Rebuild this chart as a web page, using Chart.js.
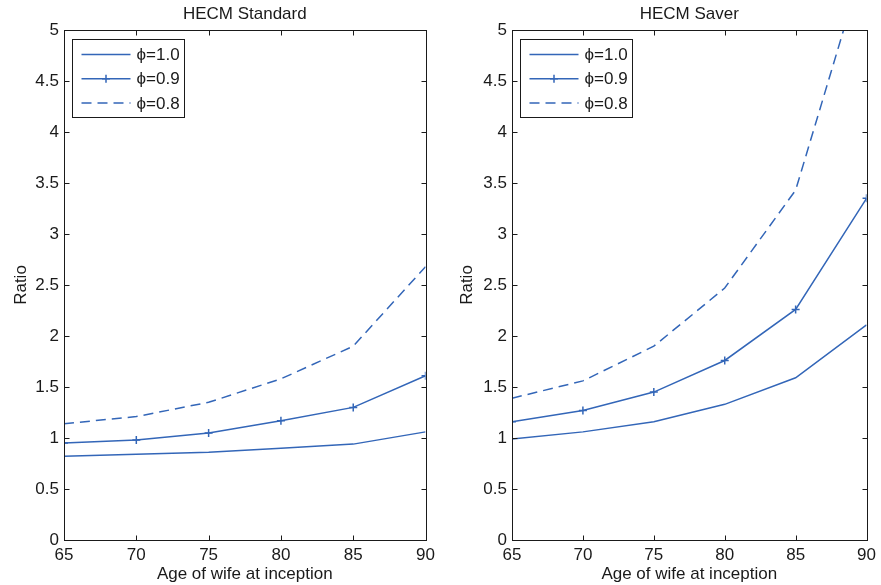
<!DOCTYPE html>
<html>
<head>
<meta charset="utf-8">
<script src="https://cdn.jsdelivr.net/npm/chart.js@4/dist/chart.umd.min.js"></script>
<style>
html, body { margin:0; padding:0; background:#fff; }
#wrap { position:relative; width:881px; height:585px; }
.box { position:absolute; top:0; height:585px; }
</style>
</head>
<body>
<div id="wrap">
  <div class="box" style="left:0;width:440px"><canvas id="std"></canvas></div>
  <div class="box" style="left:440px;width:441px"><canvas id="sav"></canvas></div>
</div>
<script>
// data
var ages = [65, 70, 75, 80, 85, 90];
var seriesNames = ['\u03d5=1.0', '\u03d5=0.9', '\u03d5=0.8'];
var yTicks = [0, 0.5, 1, 1.5, 2, 2.5, 3, 3.5, 4, 4.5, 5];

var std10 = [0.82, 0.84, 0.86, 0.90, 0.94, 1.06];
var std09 = [0.95, 0.98, 1.05, 1.17, 1.30, 1.61];
var std08 = [1.14, 1.21, 1.35, 1.58, 1.90, 2.68];

var sav10 = [0.99, 1.06, 1.16, 1.33, 1.59, 2.11];
var sav09 = [1.16, 1.27, 1.45, 1.76, 2.26, 3.35];
var sav08 = [1.39, 1.56, 1.90, 2.47, 3.43, 5.75];

var BLUE = '#3366b8';
var INK = '#1a1a1a';
var FONT = '"Liberation Sans", Arial, Helvetica, sans-serif';
var FS = 17;

function pts(vals) {
    return ages.map(function (a, i) { return { x: a, y: vals[i] }; });
}

function makeSets(a, b, c) {
    return [
        { label: seriesNames[0], data: pts(a), borderColor: BLUE, backgroundColor: BLUE,
          borderWidth: 1.5, pointRadius: 0, tension: 0 },
        { label: seriesNames[1], data: pts(b), borderColor: BLUE, backgroundColor: BLUE,
          borderWidth: 1.5, pointStyle: 'cross', pointRadius: 4, pointBorderWidth: 1.5, tension: 0 },
        { label: seriesNames[2], data: pts(c), borderColor: BLUE, backgroundColor: BLUE,
          borderWidth: 1.5, borderDash: [10, 6], pointRadius: 0, tension: 0 }
    ];
}

// box around the axes, inward ticks, title and legend (matlab style)
var matlabLook = {
    id: 'matlabLook',
    afterDatasetsDraw: function (chart, args, opts) {
        var ctx = chart.ctx, a = chart.chartArea;
        var L = Math.round(a.left) + 0.5, R = Math.round(a.right) + 0.5;
        var T = Math.round(a.top) + 0.5, B = Math.round(a.bottom) + 0.5;
        ctx.save();
        ctx.strokeStyle = INK;
        ctx.lineWidth = 1;
        ctx.setLineDash([]);
        ctx.strokeRect(L, T, R - L, B - T);
        ctx.beginPath();
        chart.scales.x.ticks.forEach(function (t) {
            var x = Math.round(chart.scales.x.getPixelForValue(t.value)) + 0.5;
            ctx.moveTo(x, B); ctx.lineTo(x, B - 5);
            ctx.moveTo(x, T); ctx.lineTo(x, T + 5);
        });
        chart.scales.y.ticks.forEach(function (t) {
            var y = Math.round(chart.scales.y.getPixelForValue(t.value)) + 0.5;
            ctx.moveTo(L, y); ctx.lineTo(L + 5, y);
            ctx.moveTo(R, y); ctx.lineTo(R - 5, y);
        });
        ctx.stroke();

        // title
        ctx.fillStyle = INK;
        ctx.font = FS + 'px ' + FONT;
        ctx.textAlign = 'center';
        ctx.textBaseline = 'middle';
        ctx.fillText(opts.text, (a.left + a.right) / 2, 14);

        // legend box
        var bx = Math.round(a.left) + 8.5, by = Math.round(a.top) + 9.5, bw = 112, bh = 78;
        ctx.fillStyle = '#fff';
        ctx.fillRect(bx, by, bw, bh);
        ctx.strokeStyle = INK;
        ctx.strokeRect(bx, by, bw, bh);
        chart.data.datasets.forEach(function (ds, i) {
            var cy = by + 15 + i * 24.3;
            var x0 = bx + 9, x1 = bx + 58;
            ctx.strokeStyle = ds.borderColor;
            ctx.lineWidth = ds.borderWidth;
            ctx.setLineDash(ds.borderDash || []);
            ctx.beginPath();
            ctx.moveTo(x0, cy); ctx.lineTo(x1, cy);
            ctx.stroke();
            ctx.setLineDash([]);
            if (ds.pointStyle === 'cross') {
                var mx = (x0 + x1) / 2;
                ctx.beginPath();
                ctx.moveTo(mx, cy - 4); ctx.lineTo(mx, cy + 4);
                ctx.moveTo(mx - 4, cy); ctx.lineTo(mx + 4, cy);
                ctx.stroke();
            }
            ctx.fillStyle = INK;
            ctx.font = FS + 'px ' + FONT;
            ctx.textAlign = 'left';
            ctx.textBaseline = 'middle';
            ctx.fillText(ds.label, bx + 64, cy + 1);
        });
        ctx.restore();
    }
};

function makeChart(id, title, sets, yWidth, padRight, titlePad) {
    return new Chart(document.getElementById(id), {
        type: 'line',
        data: { datasets: sets },
        plugins: [matlabLook],
        options: {
            responsive: true,
            maintainAspectRatio: false,
            animation: false,
            layout: { padding: { top: 30, right: padRight, left: 0, bottom: 0 } },
            plugins: {
                legend: { display: false },
                tooltip: { enabled: false },
                matlabLook: { text: title }
            },
            scales: {
                x: {
                    type: 'linear', min: 65, max: 90,
                    afterBuildTicks: function (s) { s.ticks = ages.map(function (v) { return { value: v }; }); },
                    afterFit: function (s) { s.height = 45; },
                    grid: { display: false, drawTicks: false },
                    border: { display: false },
                    ticks: { color: INK, font: { family: FONT, size: FS }, padding: 5, maxRotation: 0,
                             callback: function (v) { return String(v); } },
                    title: { display: true, text: 'Age of wife at inception', color: INK,
                             font: { family: FONT, size: FS }, padding: { top: 0, bottom: 0 } }
                },
                y: {
                    min: 0, max: 5,
                    afterBuildTicks: function (s) { s.ticks = yTicks.map(function (v) { return { value: v }; }); },
                    afterFit: function (s) { s.width = yWidth; },
                    grid: { display: false, drawTicks: false },
                    border: { display: false },
                    ticks: { color: INK, font: { family: FONT, size: FS }, padding: 5,
                             callback: function (v) { return String(v); } },
                    title: { display: true, text: 'Ratio', color: INK,
                             font: { family: FONT, size: FS }, padding: { top: titlePad, bottom: 0 } }
                }
            }
        }
    });
}

makeChart('std', 'HECM Standard', makeSets(std10, std09, std08), 64, 13, 11);
makeChart('sav', 'HECM Saver', makeSets(sav10, sav09, sav08), 72, 12, 17);
</script>
</body>
</html>
